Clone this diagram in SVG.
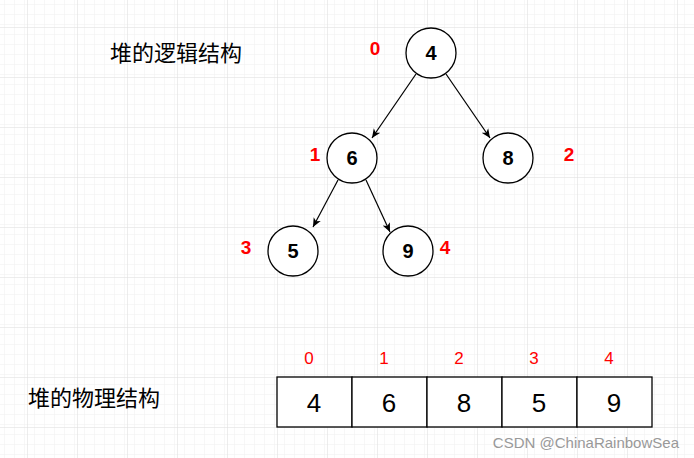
<svg xmlns="http://www.w3.org/2000/svg" width="694" height="458" viewBox="0 0 694 458">
<defs>
<pattern id="minor" width="10" height="10" patternUnits="userSpaceOnUse" x="7" y="7"><path d="M0 0H10M0 0V10" fill="none" stroke="#efefef" stroke-width="1"/></pattern>
<pattern id="major" width="50" height="50" patternUnits="userSpaceOnUse" x="27" y="27"><rect width="50" height="50" fill="url(#minor)"/><path d="M0 0H50M0 0V50" fill="none" stroke="#dcdcdc" stroke-width="1"/></pattern>
<marker id="arr" markerWidth="10" markerHeight="10" refX="9" refY="5" orient="auto" markerUnits="userSpaceOnUse"><path d="M0 1L9 5L0 9L2.5 5Z" fill="#000"/></marker>
<style>
.n circle{fill:#fff;stroke:#000;stroke-width:1.3}
.v{font-family:"Comic Sans MS","Liberation Sans",sans-serif;font-weight:bold;font-size:20px;text-anchor:middle;dominant-baseline:central}
.r{fill:#f00;font-family:"Liberation Sans",sans-serif;font-weight:bold;font-size:19px;text-anchor:middle;dominant-baseline:central}
.ri{fill:#f00;font-family:"Liberation Sans",sans-serif;font-size:17px;text-anchor:middle;dominant-baseline:central}
.t{font-family:"Noto Sans CJK SC",sans-serif;font-size:22px}
.c{fill:#fff;stroke:#000;stroke-width:1.3}
.a{font-family:"Liberation Sans",sans-serif;font-size:26px;text-anchor:middle;dominant-baseline:central}
.e{stroke:#000;stroke-width:1.2;fill:none;marker-end:url(#arr)}
</style>
</defs>
<rect width="694" height="458" fill="#fff"/>
<rect width="694" height="458" fill="url(#major)"/>
<text class="t" x="110" y="61">堆的逻辑结构</text>
<text class="t" x="28" y="406">堆的物理结构</text>
<g id="connectors">
<line class="e" x1="416" y1="74" x2="372" y2="138"/>
<line class="e" x1="446" y1="74" x2="490" y2="138"/>
<line class="e" x1="338" y1="180" x2="313" y2="227"/>
<line class="e" x1="366" y1="180" x2="390" y2="232"/>
</g>
<g id="n0" class="n"><circle cx="431" cy="53" r="25"/><text class="v" x="431" y="53">4</text></g>
<g id="n1" class="n"><circle cx="352" cy="158" r="25"/><text class="v" x="352" y="158">6</text></g>
<g id="n2" class="n"><circle cx="508" cy="158" r="25"/><text class="v" x="508" y="158">8</text></g>
<g id="n3" class="n"><circle cx="293" cy="251" r="25"/><text class="v" x="293" y="251">5</text></g>
<g id="n4" class="n"><circle cx="408" cy="251" r="25"/><text class="v" x="408" y="251">9</text></g>
<text class="r" x="375" y="48">0</text>
<text class="r" x="315" y="154">1</text>
<text class="r" x="569" y="154">2</text>
<text class="r" x="246" y="247">3</text>
<text class="r" x="445" y="247">4</text>
<g id="array">
<rect class="c" x="277" y="377" width="75" height="50"/>
<rect class="c" x="352" y="377" width="75" height="50"/>
<rect class="c" x="427" y="377" width="75" height="50"/>
<rect class="c" x="502" y="377" width="75" height="50"/>
<rect class="c" x="577" y="377" width="75" height="50"/>
<text class="a" x="314" y="403">4</text>
<text class="a" x="389" y="403">6</text>
<text class="a" x="464" y="403">8</text>
<text class="a" x="539" y="403">5</text>
<text class="a" x="614" y="403">9</text>
<text class="ri" x="309" y="358">0</text>
<text class="ri" x="384" y="358">1</text>
<text class="ri" x="459" y="358">2</text>
<text class="ri" x="534" y="358">3</text>
<text class="ri" x="609" y="358">4</text>
</g>
<text x="679" y="448" font-family="Liberation Sans,sans-serif" font-size="15" fill="#999" text-anchor="end">CSDN @ChinaRainbowSea</text>
</svg>
